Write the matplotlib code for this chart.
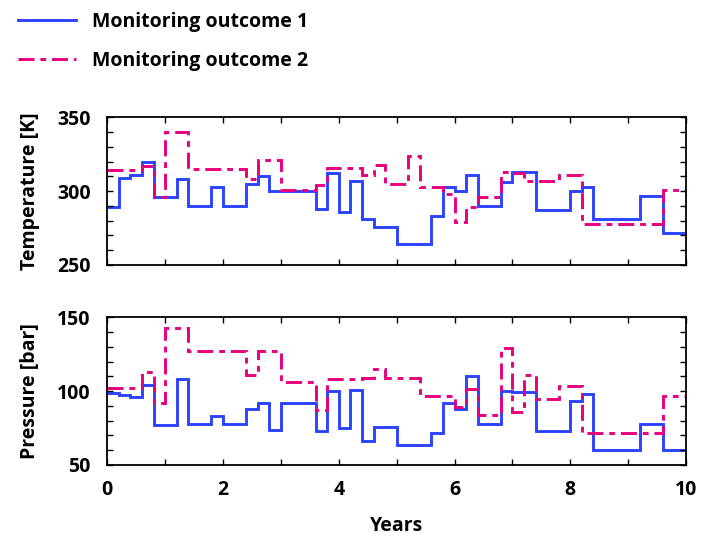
import matplotlib
matplotlib.use("Agg")
import matplotlib.pyplot as plt
from matplotlib.lines import Line2D
from matplotlib.ticker import MultipleLocator

# ---- data ----
temp1_edges = [0, 0.2, 0.4, 0.6, 0.8, 1.2, 1.4, 1.8, 2.0, 2.4, 2.6, 2.8, 3.6, 3.8, 4.0, 4.2, 4.4,
               4.6, 5.0, 5.6, 5.8, 6.0, 6.2, 6.4, 6.8, 7.0, 7.4, 8.0, 8.2, 8.4, 9.2, 9.6, 10]
temp1_vals = [289, 309, 311, 320, 296, 308, 290, 303, 290, 305, 310, 300, 288, 312, 286, 307,
              281, 276, 264, 283, 303, 300, 311, 290, 306, 313, 287, 300, 303, 281, 297, 272]

temp2_edges = [0, 0.6, 0.8, 1.0, 1.4, 2.4, 2.6, 3.0, 3.6, 3.8, 4.4, 4.6, 4.8, 5.2, 5.4, 5.8,
               6.0, 6.2, 6.4, 6.8, 7.0, 7.2, 7.8, 8.2, 9.6, 10]
temp2_vals = [314, 317, 296, 340, 315, 308, 321, 301, 304, 316, 311, 318, 305, 324, 303, 298,
              279, 289, 296, 313, 312, 307, 311, 278, 301]

pres1_edges = [0, 0.2, 0.4, 0.6, 0.8, 1.2, 1.4, 1.8, 2.0, 2.4, 2.6, 2.8, 3.0, 3.6, 3.8, 4.0,
               4.2, 4.4, 4.6, 5.0, 5.6, 5.8, 6.0, 6.2, 6.4, 6.8, 7.0, 7.4, 8.0, 8.2, 8.4, 9.2, 9.6, 10]
pres1_vals = [99, 97.5, 96, 104, 77, 108, 78, 83, 78, 88, 92, 74, 92, 73, 100, 75, 101, 66, 76,
              63.5, 71.5, 92, 88, 110, 78, 100, 99.5, 73, 93, 98, 60, 78, 60]

pres2_edges = [0, 0.6, 0.8, 1.0, 1.4, 2.4, 2.6, 3.0, 3.6, 3.8, 4.4, 4.6, 4.8, 5.4, 6.0, 6.2,
               6.4, 6.8, 7.0, 7.2, 7.4, 7.8, 8.2, 9.6, 10]
pres2_vals = [102, 113, 92, 143, 127, 111, 127, 106, 87, 108, 109, 115, 109, 97, 89.5, 101.5,
              84, 129, 86, 111, 94.5, 103.5, 71.5, 97]

series_labels = ["Monitoring outcome 1", "Monitoring outcome 2"]
x_label = "Years"
y_labels = ["Temperature [K]", "Pressure [bar]"]

# ---- style ----
plt.rcParams['font.family'] = ['Open Sans', 'DejaVu Sans']
FS = 14
FW = 'bold'
BLUE = "#2b43ff"
PINK = "#e6007e"
LW = 2.1
DASH = (0, (5.5, 2, 2, 2))

fig = plt.figure(figsize=(7.11, 5.37), dpi=100)
L, R = 107.3 / 711, 686 / 711
ax1 = fig.add_axes([L, 1 - 265 / 537, R - L, (265 - 117.3) / 537])
ax2 = fig.add_axes([L, 1 - 465 / 537, R - L, (465 - 317.3) / 537])

panels = [
    (ax1, temp1_edges, temp1_vals, temp2_edges, temp2_vals, (250, 350), y_labels[0]),
    (ax2, pres1_edges, pres1_vals, pres2_edges, pres2_vals, (50, 150), y_labels[1]),
]
for ax, e1, v1, e2, v2, ylim, yl in panels:
    ax.stairs(v1, e1, baseline=None, color=BLUE, lw=LW)
    ax.stairs(v2, e2, baseline=None, color=PINK, lw=LW, linestyle=DASH)
    ax.set_xlim(0, 10)
    ax.set_ylim(*ylim)
    ax.xaxis.set_major_locator(MultipleLocator(2))
    ax.xaxis.set_minor_locator(MultipleLocator(1))
    ax.yaxis.set_major_locator(MultipleLocator(50))
    ax.yaxis.set_minor_locator(MultipleLocator(10))
    ax.tick_params(which='both', direction='in', top=True, right=True, length=4.5, width=1.0,
                   labelsize=FS)
    ax.tick_params(axis='y', pad=12)
    ax.tick_params(axis='x', pad=11)
    for s in ax.spines.values():
        s.set_linewidth(1.3)
    ax.set_ylabel(yl, fontsize=FS, fontweight=FW, labelpad=12)
    for t in ax.get_xticklabels() + ax.get_yticklabels():
        t.set_fontweight(FW)

ax1.tick_params(labelbottom=False)
ax2.set_xlabel(x_label, fontsize=FS, fontweight=FW, labelpad=11)
fig.align_ylabels([ax1, ax2])

handles = [Line2D([], [], color=BLUE, lw=LW),
           Line2D([], [], color=PINK, lw=LW, linestyle=DASH)]
leg = fig.legend(handles, series_labels, loc='upper left', bbox_to_anchor=(0.0, 1.01),
                 frameon=False, prop={'size': FS, 'weight': FW},
                 handlelength=3.0, handletextpad=0.85, labelspacing=0.95)

fig.savefig("out.png", dpi=100)
